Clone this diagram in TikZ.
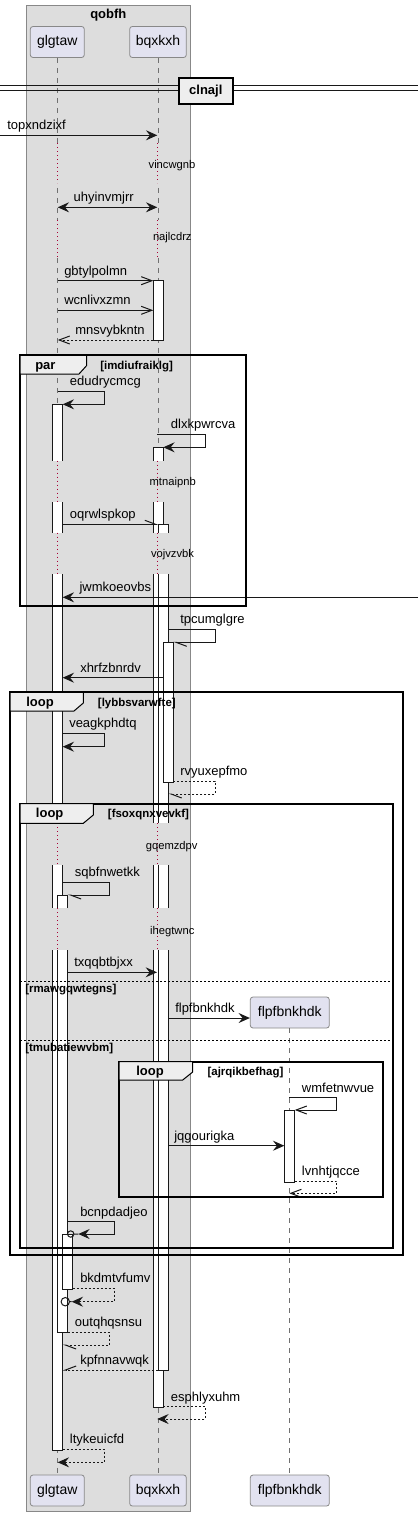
\documentclass[tikz,border=0pt]{standalone}
\usepackage{fontspec}
\setmainfont{Liberation Sans}
\usetikzlibrary{arrows.meta}

\definecolor{grpbg}{HTML}{DDDDDD}
\definecolor{grpline}{HTML}{888888}
\definecolor{partbg}{HTML}{E2E2F0}
\definecolor{partline}{HTML}{888888}
\definecolor{tabbg}{HTML}{EEEEEE}
\definecolor{lifeln}{HTML}{707070}
\definecolor{delayln}{HTML}{A80036}
\definecolor{ink}{HTML}{181818}

\tikzset{
  part/.style={draw=partline, fill=partbg, rounded corners=2pt, line width=0.6pt,
    minimum height=23.25pt, inner sep=0pt, font=\fontsize{10.5}{12}\selectfont},
  life/.style={lifeln, line width=0.6pt, dash pattern=on 3.75pt off 3.75pt},
  dlyline/.style={delayln, line width=0.75pt, dash pattern=on 0.75pt off 2.25pt},
  act/.style={draw=ink, fill=white, line width=0.75pt},
  msg/.style={draw=ink, line width=0.75pt},
  ret/.style={msg, dash pattern=on 1.5pt off 1.5pt},
  hfull/.style={-{Stealth[length=8.5pt,width=7.5pt,inset=3pt]}},
  hopen/.style={-{Straight Barb[length=8pt,width=6pt]}},
  hhalf/.style={-{Straight Barb[harpoon,length=8pt,width=6pt]}},
  hhalfs/.style={-{Straight Barb[harpoon,swap,length=8pt,width=6pt]}},
  lbl/.style={anchor=base west, inner sep=0pt, font=\fontsize{9.75}{11}\selectfont},
  dly/.style={anchor=base, inner sep=0pt, font=\fontsize{8.4}{10}\selectfont},
  frm/.style={draw=black, line width=1.5pt},
  tab/.style={draw=black, fill=tabbg, line width=0.75pt},
  frlbl/.style={anchor=base west, inner sep=0pt, font=\bfseries\fontsize{9.75}{11}\selectfont},
  cond/.style={anchor=base west, inner sep=0pt, font=\bfseries\fontsize{8.6}{10}\selectfont},
  elsel/.style={draw=black, line width=0.75pt, dash pattern=on 1.5pt off 1.5pt},
}

\begin{document}
\begin{tikzpicture}[x=0.75pt, y=-0.75pt]
  \useasboundingbox (0,0) rectangle (418,1516);

  % box qobfh
  \draw[fill=grpbg, draw=grpline, line width=0.75pt] (26.3,6) rectangle (190.3,1511);
  \node[anchor=base, inner sep=0pt, font=\bfseries\fontsize{9.75}{11}\selectfont] (qobfh) at (108.3,18.3) {qobfh};

  % participants
  \node[part, minimum width=40.5pt] (glgtaw) at (57.3,42) {glgtaw};
  \node[part, minimum width=42.5pt] (bqxkxh) at (158,42) {bqxkxh};
  \node[part, minimum width=40.5pt] (glgtaw-b) at (57.3,1490.5) {glgtaw};
  \node[part, minimum width=42.5pt] (bqxkxh-b) at (158,1490.5) {bqxkxh};
  \node[part, minimum width=59.25pt] (flpfbnkhdk-b) at (289.8,1490.5) {flpfbnkhdk};

  \draw[life] (glgtaw.south) -- (glgtaw-b.north);
  \draw[life] (bqxkxh.south) -- (bqxkxh-b.north);

  % activations
  \draw[act] (52.3,404.3) rectangle (62.7,1450);
  \draw[act] (57.7,895) rectangle (67.7,1332.7);
  \draw[act] (62.7,1234) rectangle (72.7,1289);
  \draw[act] (153.3,280.7) rectangle (163.3,340);
  \draw[act] (153.3,447.3) rectangle (163.3,1407.3);
  \draw[act] (158.3,524.3) rectangle (168.3,1370);
  \draw[act] (163.3,642.3) rectangle (173.3,782.3);

  % delays
  \foreach \ya/\yb in {143.3/183.3, 220/256.7, 460.7/502, 532.7/574.3, 823.3/865, 908.3/950} {
    \fill[grpbg] (50,\ya) rectangle (76,\yb);
    \fill[grpbg] (150,\ya) rectangle (177,\yb);
    \draw[dlyline] (57.7,\ya) -- (57.7,\yb);
    \draw[dlyline] (157.3,\ya) -- (157.3,\yb);
  }
  \node[dly] (vincwgnb) at (172,168.5) {vincwgnb};
  \node[dly] (najlcdrz) at (172.3,240.5) {najlcdrz};
  \node[dly] (mtnaipnb) at (172.7,485.8) {mtnaipnb};
  \node[dly] (vojvzvbk) at (172.5,557.8) {vojvzvbk};
  \node[dly] (gqemzdpv) at (171.7,849.2) {gqemzdpv};
  \node[dly] (ihegtwnc) at (172.3,934.2) {ihegtwnc};

  % divider
  \draw[ink, line width=0.75pt] (0,86) -- (418,86) (0,90.5) -- (418,90.5);
  \node[draw=black, fill=tabbg, line width=1.5pt, minimum width=40.3pt, minimum height=19.7pt,
    inner sep=0pt, font=\bfseries\fontsize{9.75}{11}\selectfont] (clnajl) at (205.8,90.8) {clnajl};

  % messages
  \draw[msg, hfull] (0,135.3) -- (157.3,135.3);
  \node[lbl] (topxndzixf) at (7,129.8) {topxndzixf};
  \draw[msg, {Stealth[length=8.5pt,width=7.5pt,inset=3pt]}-{Stealth[length=8.5pt,width=7.5pt,inset=3pt]}] (57.7,207.3) -- (157.3,207.3);
  \node[lbl, anchor=base] (uhyinvmjrr) at (103.7,201.8) {uhyinvmjrr};
  \draw[msg, hopen] (57.7,280.7) -- (153.3,280.7);
  \node[lbl] (gbtylpolmn) at (64,275.2) {gbtylpolmn};
  \draw[msg, hopen] (57.7,310.3) -- (153.3,310.3);
  \node[lbl] (wcnlivxzmn) at (64,304.8) {wcnlivxzmn};
  \draw[ret, hopen] (153.3,340) -- (57.7,340);
  \node[lbl] (mnsvybkntn) at (75,334.5) {mnsvybkntn};

  \draw[msg, hfull] (57.7,391.3) -- (104.3,391.3) -- (104.3,404.3) -- (62.7,404.3);
  \node[lbl] (edudrycmcg) at (69.7,385.8) {edudrycmcg};
  \draw[msg, hfull] (157.3,434.3) -- (205.7,434.3) -- (205.7,447.3) -- (163.3,447.3);
  \node[lbl] (dlxkpwrcva) at (170.7,428.8) {dlxkpwrcva};
  \draw[msg, hhalf] (62.7,524.3) -- (158.3,524.3);
  \node[lbl] (oqrwlspkop) at (69.7,518.8) {oqrwlspkop};
  \draw[msg, hfull] (418,597.3) -- (62.7,597.3);
  \node[lbl] (jwmkoeovbs) at (79.3,591.8) {jwmkoeovbs};

  \draw[msg, hhalf] (168.3,629) -- (215.3,629) -- (215.3,642.3) -- (173.3,642.3);
  \node[lbl] (tpcumglgre) at (180,623.5) {tpcumglgre};
  \draw[msg, hfull] (163.3,677.7) -- (62.7,677.7);
  \node[lbl] (xhrfzbnrdv) at (80,672.2) {xhrfzbnrdv};
  \draw[msg, hfull] (62.7,733.3) -- (104.3,733.3) -- (104.3,746.7) -- (62.7,746.7);
  \node[lbl] (veagkphdtq) at (69,727.8) {veagkphdtq};
  \draw[ret, hhalf] (173.3,781) -- (215.3,781) -- (215.3,794) -- (168.3,794);
  \node[lbl] (rvyuxepfmo) at (180,775.5) {rvyuxepfmo};

  \draw[msg, hhalf] (62.7,882.3) -- (109.3,882.3) -- (109.3,895) -- (67.7,895);
  \node[lbl] (sqbfnwetkk) at (74.7,876.8) {sqbfnwetkk};
  \draw[msg, hfull] (67.7,972.3) -- (157,972.3);
  \node[lbl] (txqqbtbjxx) at (74,966.8) {txqqbtbjxx};

  % created participant
  \node[part, minimum width=59.25pt] (flpfbnkhdk) at (289.8,1012.5) {flpfbnkhdk};
  \draw[life] (flpfbnkhdk.south) -- (flpfbnkhdk-b.north);
  \draw[msg, hfull] (168.3,1018) -- (flpfbnkhdk.west |- 0,1018);
  \node[lbl] (m-flpfbnkhdk) at (175,1012.5) {flpfbnkhdk};

  \draw[act] (284.3,1110) rectangle (294.7,1182.3);
  \draw[msg, hopen] (289.3,1097.7) -- (336.7,1097.7) -- (336.7,1110) -- (294.7,1110);
  \node[lbl] (wmfetnwvue) at (301.7,1092.2) {wmfetnwvue};
  \draw[msg, hfull] (168.3,1145.7) -- (284.3,1145.7);
  \node[lbl] (jqgourigka) at (174,1140.2) {jqgourigka};
  \draw[ret, hopen] (294.7,1181) -- (336.7,1181) -- (336.7,1193.3) -- (289.3,1193.3);
  \node[lbl] (lvnhtjqcce) at (301.7,1175.5) {lvnhtjqcce};

  \draw[msg, hfull] (67.7,1221.7) -- (114.3,1221.7) -- (114.3,1234) -- (78.3,1234);
  \draw[msg] (78.3,1234) -- (73.9,1234) (70.7,1234) circle[radius=3.2];
  \node[lbl] (bcnpdadjeo) at (80,1216.2) {bcnpdadjeo};
  \draw[ret, hfull] (72.7,1288.3) -- (114.3,1288.3) -- (114.3,1301.7) -- (71.7,1301.7);
  \draw[msg] (71.7,1301.7) -- (69.5,1301.7) (65.3,1301.7) circle[radius=4.2];
  \node[lbl] (bkdmtvfumv) at (80,1282.8) {bkdmtvfumv};
  \draw[ret, hhalf] (67.7,1332.3) -- (109.3,1332.3) -- (109.3,1345) -- (62.7,1345);
  \node[lbl] (outqhqsnsu) at (74.7,1326.8) {outqhqsnsu};
  \draw[ret, hhalfs] (158.3,1370) -- (62.7,1370);
  \node[lbl] (kpfnnavwqk) at (80,1364.5) {kpfnnavwqk};
  \draw[ret, hfull] (163.3,1406.7) -- (205.7,1406.7) -- (205.7,1419) -- (157.3,1419);
  \node[lbl] (esphlyxuhm) at (170.7,1401.2) {esphlyxuhm};
  \draw[ret, hfull] (62.7,1449.3) -- (104.3,1449.3) -- (104.3,1462.3) -- (57.7,1462.3);
  \node[lbl] (ltykeuicfd) at (69.7,1443.8) {ltykeuicfd};

  % frames
  \draw[frm] (20,355.3) rectangle (246,605.7);
  \draw[tab] (20,355.3) -- (86.7,355.3) -- (86.7,365.5) -- (79,374) -- (20,374) -- cycle;
  \node[frlbl] (par) at (35,369) {par};
  \node[cond] (imdiufraiklg) at (100,369) {[imdiufraiklg]};

  \draw[frm] (10,692.3) rectangle (402.7,1254.7);
  \draw[tab] (10,692.3) -- (83.3,692.3) -- (83.3,703) -- (74,711) -- (10,711) -- cycle;
  \node[frlbl] (loop1) at (26,706) {loop};
  \node[cond] (lybbsvarwfte) at (97.7,706) {[lybbsvarwfte]};

  \draw[frm] (20,803.7) rectangle (392.7,1247.7);
  \draw[tab] (20,803.7) -- (93.3,803.7) -- (93.3,815) -- (83.3,823.3) -- (20,823.3) -- cycle;
  \node[frlbl] (loop2) at (35.7,817.4) {loop};
  \node[cond] (fsoxqnxvevkf) at (107.7,817.4) {[fsoxqnxvevkf]};
  \draw[elsel] (20,981) -- (392.7,981);
  \node[cond] (rmawgqwtegns) at (25,992.5) {[rmawgqwtegns]};
  \draw[elsel] (20,1040) -- (392.7,1040);
  \node[cond] (tmubatiewvbm) at (25,1051.5) {[tmubatiewvbm]};

  \draw[frm] (119,1061.7) rectangle (382.7,1197.3);
  \draw[tab] (119,1061.7) -- (192.7,1061.7) -- (192.7,1072) -- (182.7,1080) -- (119,1080) -- cycle;
  \node[frlbl] (loop3) at (136,1075.4) {loop};
  \node[cond] (ajrqikbefhag) at (207.3,1075.4) {[ajrqikbefhag]};
\end{tikzpicture}
\end{document}
